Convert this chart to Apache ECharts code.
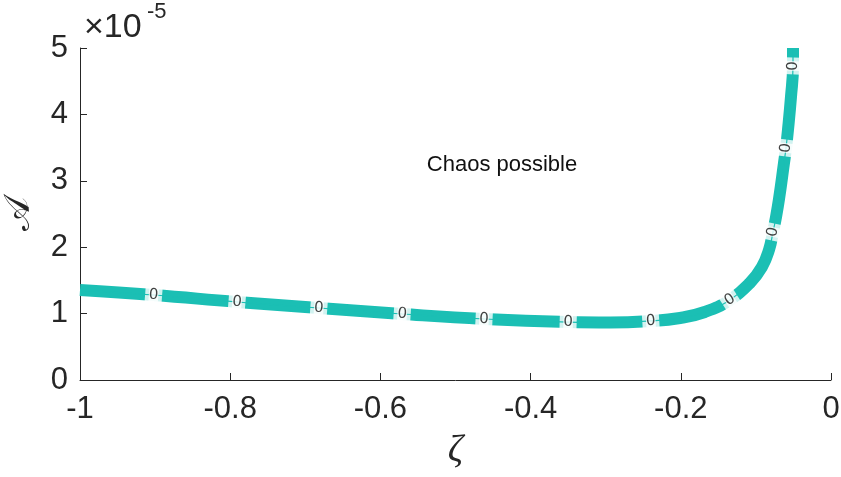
<!DOCTYPE html>
<html><head><meta charset="utf-8">
<script src="https://cdn.jsdelivr.net/npm/echarts@6/dist/echarts.min.js"></script>
<style>html,body{margin:0;padding:0;background:#fff}#c{width:841px;height:477px}</style>
</head><body><div id="c"></div>
<script>
// Contour A = 0 : zeta (x) and A in units of 1e-5 (y)
const zeta = [-1.0, -0.902, -0.791, -0.682, -0.571, -0.462, -0.350, -0.294, -0.240, -0.201,
  -0.168, -0.1345, -0.108, -0.092, -0.0826, -0.0772, -0.0732, -0.0692, -0.0626, -0.0599,
  -0.0573, -0.0533, -0.0506, -0.0506];
const amp = [1.355, 1.280, 1.175, 1.084, 0.994, 0.919, 0.873, 0.866, 0.889, 0.934,
  1.024, 1.205, 1.461, 1.702, 1.958, 2.229, 2.455, 2.726, 3.268, 3.494,
  3.765, 4.262, 4.729, 5.0];
// contour label positions (on the curve)
const labelZeta = [-0.902, -0.791, -0.682, -0.571, -0.462, -0.350, -0.240, -0.1345, -0.0772, -0.0599, -0.0506];
const labelAmp  = [1.280, 1.175, 1.084, 0.994, 0.919, 0.873, 0.889, 1.205, 2.229, 3.494, 4.729];
const labelText = '0';
const xTicks = [-1, -0.8, -0.6, -0.4, -0.2, 0];
const yTicks = [0, 1, 2, 3, 4, 5];
const exponentText = ['\u00d710', '-5'];
const annotation = 'Chaos possible';
const xName = '\u03b6';
const yName = '\ud835\udc9c';

const TEAL = '#1BBFB4';
const INK = '#262626';
const chart = echarts.init(document.getElementById('c'), null, {renderer: 'canvas'});
const curve = zeta.map((x, i) => [x, amp[i]]);
const labels = labelZeta.map((x, i) => [x, labelAmp[i]]);

function baseOption(rots) {
  return {
    animation: false,
    backgroundColor: '#fff',
    grid: {left: 80, right: 10, top: 48, bottom: 97, containLabel: false, outerBoundsMode: 'none'},
    xAxis: {
      type: 'value', min: xTicks[0], max: xTicks[xTicks.length - 1], interval: 0.2,
      name: xName, nameLocation: 'middle', nameGap: 52,
      nameTextStyle: {fontFamily: 'Liberation Serif', fontStyle: 'italic', fontSize: 38, color: INK},
      axisLine: {show: true, onZero: false, lineStyle: {color: INK, width: 1}},
      axisTick: {show: true, inside: true, length: 7, lineStyle: {color: INK}},
      axisLabel: {show: true, margin: 14, fontSize: 31, color: INK, fontFamily: 'Liberation Sans',
        formatter: v => String(Math.round(v * 10) / 10)},
      splitLine: {show: false}
    },
    yAxis: {
      type: 'value', min: yTicks[0], max: yTicks[yTicks.length - 1], interval: 1,
      name: yName, nameLocation: 'middle', nameGap: 42,
      nameTextStyle: {fontFamily: 'DejaVu Serif', fontSize: 36, color: INK},
      axisLine: {show: true, onZero: false, lineStyle: {color: INK, width: 1}},
      axisTick: {show: true, inside: true, length: 7, lineStyle: {color: INK}},
      axisLabel: {show: true, margin: 12, fontSize: 31, color: INK, fontFamily: 'Liberation Sans',
        formatter: v => String(Math.round(v))},
      splitLine: {show: false}
    },
    graphic: [
      {type: 'text', x: 84, y: 11, style: {text: exponentText[0], font: '34px "Liberation Sans"', fill: INK}},
      {type: 'text', x: 147, y: 1, style: {text: exponentText[1], font: '22px "Liberation Sans"', fill: INK}},
      {type: 'text', x: 502, y: 165, style: {text: annotation, font: '22px "Liberation Sans"', fill: '#111', align: 'center', verticalAlign: 'middle'}}
    ],
    series: [
      {type: 'line', data: curve, showSymbol: false, smooth: 0.45, lineStyle: {color: TEAL, width: 12, cap: 'butt'}, z: 2, silent: true},
      {type: 'scatter', data: labels.map((p, i) => ({value: p, symbolRotate: rots ? rots[i] : 0})), symbol: 'rect', symbolSize: [17, 18],
        itemStyle: {color: '#fff'}, z: 3, silent: true},
      {type: 'line', data: curve, showSymbol: false, smooth: 0.45, lineStyle: {color: TEAL, width: 1.2}, z: 4, silent: true},
      {type: 'scatter', data: labels.map((p, i) => ({value: p, label: {rotate: rots ? rots[i] : 0}})), symbolSize: 0, z: 5, silent: true,
        label: {show: true, position: 'inside', formatter: () => labelText, fontSize: 15, color: '#111',
          fontFamily: 'DejaVu Sans', backgroundColor: '#fff', padding: [0, 0], lineHeight: 13}}
    ]
  };
}
chart.setOption(baseOption(null));
// rotate labels and gaps along the contour tangent (pixel space)
const pix = curve.map(p => chart.convertToPixel({gridIndex: 0}, p));
const rots = labels.map(p => {
  let k = 0, best = Infinity;
  curve.forEach((c, j) => { const d = Math.abs(c[0] - p[0]) + Math.abs(c[1] - p[1]); if (d < best) { best = d; k = j; } });
  const a = pix[Math.max(0, k - 1)], b = pix[Math.min(pix.length - 1, k + 1)];
  return Math.atan2(-(b[1] - a[1]), b[0] - a[0]) * 180 / Math.PI;
});
chart.setOption(baseOption(rots), true);
</script></body></html>
